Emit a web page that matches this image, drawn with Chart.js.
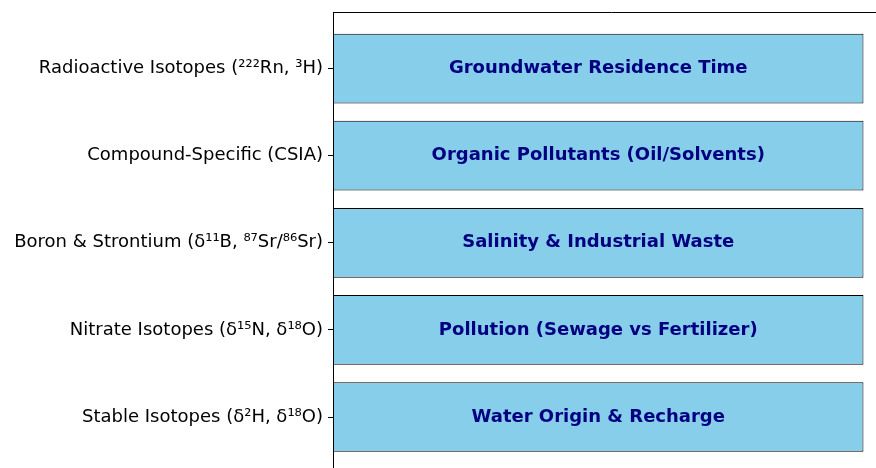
<!DOCTYPE html>
<html>
<head>
<meta charset="utf-8">
<script src="https://cdn.jsdelivr.net/npm/chart.js@4"></script>
<style>
  html, body { margin: 0; padding: 0; background: #fff; overflow: hidden; }
  canvas { display: block; }
</style>
</head>
<body>
<canvas id="isoChart" width="890" height="471"></canvas>
<script>
// ISOTOPE METHODS vs APPLICATIONS
var methods = [
  "Stable Isotopes (δ²H, δ¹⁸O)",
  "Nitrate Isotopes (δ¹⁵N, δ¹⁸O)",
  "Boron & Strontium (δ¹¹B, ⁸⁷Sr/⁸⁶Sr)",
  "Compound-Specific (CSIA)",
  "Radioactive Isotopes (²²²Rn, ³H)"
];
var applications = [
  "Water Origin & Recharge",
  "Pollution (Sewage vs Fertilizer)",
  "Salinity & Industrial Waste",
  "Organic Pollutants (Oil/Solvents)",
  "Groundwater Residence Time"
];
var rowIndex = [0, 1, 2, 3, 4];
var barValues = [1, 1, 1, 1, 1];

var barLabels = {
  id: "barLabels",
  afterDatasetsDraw: function (chart) {
    var ctx = chart.ctx;
    var meta = chart.getDatasetMeta(0);
    ctx.save();
    ctx.font = "bold 18px 'DejaVu Sans'";
    ctx.fillStyle = "#000080";
    ctx.textAlign = "center";
    ctx.textBaseline = "middle";
    meta.data.forEach(function (bar, i) {
      var p = bar.getProps(["x", "y", "base"], true);
      ctx.fillText(applications[i], (p.x + p.base) / 2, p.y);
    });
    ctx.restore();
  }
};

// top spine
var frame = {
  id: "frame",
  afterDraw: function (chart) {
    var a = chart.chartArea;
    var ctx = chart.ctx;
    ctx.save();
    ctx.strokeStyle = "#000";
    ctx.lineWidth = 1;
    ctx.beginPath();
    ctx.moveTo(a.left, a.top + 0.5);
    ctx.lineTo(a.right, a.top + 0.5);
    ctx.stroke();
    ctx.restore();
  }
};

new Chart("isoChart", {
  type: "bar",
  data: {
    datasets: [
      {
        data: rowIndex.map(function (r, i) { return { x: barValues[i], y: r }; }),
        backgroundColor: "#87CEEB",
        borderColor: "#000",
        borderWidth: 1,
        borderSkipped: false,
        barPercentage: 0.8,
        categoryPercentage: 1.0
      }
    ]
  },
  options: {
    indexAxis: "y",
    responsive: false,
    animation: false,
    devicePixelRatio: 1,
    layout: { padding: { top: 12, left: 0, right: 0, bottom: 0 } },
    plugins: {
      legend: { display: false },
      tooltip: { enabled: false }
    },
    scales: {
      x: {
        type: "linear",
        display: false,
        min: 0,
        max: 1.05
      },
      y: {
        type: "linear",
        offset: false,
        min: -0.62,
        max: 4.65,
        afterBuildTicks: function (scale) {
          scale.ticks = rowIndex.map(function (v) { return { value: v }; });
        },
        afterFit: function (scale) {
          scale.width = 333;
          scale.paddingTop = 0;
          scale.paddingBottom = 0;
        },
        ticks: {
          color: "#000",
          font: { family: "'DejaVu Sans'", size: 18 },
          padding: 5,
          callback: function (v) { return methods[v]; }
        },
        grid: {
          display: true,
          offset: false,
          drawOnChartArea: false,
          drawTicks: true,
          tickLength: 5,
          color: "#000"
        },
        border: { display: true, color: "#000", width: 1 }
      }
    }
  },
  plugins: [barLabels, frame]
});
</script>
</body>
</html>
